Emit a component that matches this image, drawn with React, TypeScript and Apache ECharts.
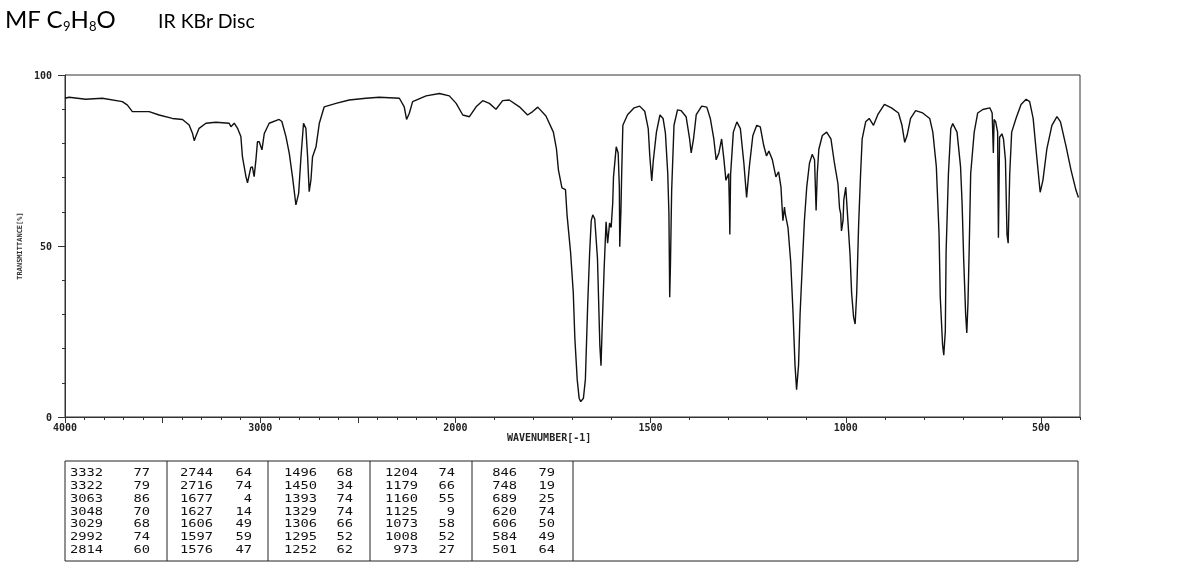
import React, { useEffect, useRef } from "react";
import * as echarts from "echarts";

// Spectrum (wavenumber cm-1, transmittance %)
const wavenumbers = [
  4000, 3979, 3894, 3809, 3706, 3680, 3655, 3569, 3518, 3450, 3398, 3364, 3347, 3338, 3330, 3313, 3278, 3227,
  3159, 3150, 3133, 3116, 3099, 3091, 3073, 3065, 3048, 3040, 3031, 3022, 3014, 3005, 2991, 2979, 2954, 2903,
  2889, 2868, 2851, 2834, 2817, 2803, 2791, 2778, 2766, 2757, 2749, 2740, 2732, 2714, 2697, 2672, 2612, 2544,
  2458, 2390, 2287, 2262, 2250, 2236, 2219, 2150, 2082, 2031, 1998, 1981, 1964, 1947, 1930, 1913, 1896, 1879,
  1862, 1836, 1815, 1802, 1789, 1768, 1749, 1741, 1736, 1727, 1718, 1714, 1705, 1698, 1694, 1688, 1683, 1679,
  1672, 1667, 1661, 1656, 1652, 1648, 1643, 1636, 1630, 1627, 1624, 1619, 1614, 1610, 1605, 1601, 1597, 1595,
  1588, 1583, 1580, 1579, 1576, 1574, 1571, 1559, 1542, 1528, 1515, 1506, 1502, 1497, 1493, 1485, 1476, 1468,
  1462, 1456, 1453, 1451, 1449, 1447, 1446, 1440, 1431, 1422, 1409, 1400, 1396, 1390, 1383, 1369, 1356, 1347,
  1338, 1332, 1325, 1318, 1312, 1307, 1300, 1298, 1297, 1295, 1288, 1279, 1270, 1261, 1254, 1247, 1238, 1228,
  1219, 1210, 1203, 1197, 1188, 1179, 1172, 1166, 1163, 1161, 1157, 1155, 1148, 1141, 1135, 1130, 1126, 1121,
  1117, 1111, 1106, 1100, 1093, 1086, 1080, 1076, 1073, 1069, 1060, 1049, 1038, 1029, 1020, 1016, 1013, 1011,
  1007, 1005, 1000, 994, 989, 985, 980, 976, 972, 967, 962, 958, 949, 940, 929, 918, 901, 883, 865, 856, 849,
  843, 834, 821, 803, 785, 777, 768, 761, 758, 752, 749, 745, 743, 737, 731, 726, 715, 706, 702, 698, 693, 690,
  687, 684, 680, 671, 662, 649, 631, 625, 622, 620, 616, 611, 609, 606, 600, 596, 591, 587, 584, 580, 575, 564,
  551, 538, 529, 520, 511, 502, 495, 485, 472, 459, 450, 436, 423, 410, 404,
];
const transmittance = [
  93.2, 93.5, 92.9, 93.2, 92.2, 91.2, 89.3, 89.3, 88.3, 87.3, 87.0, 85.4, 83.0, 80.8, 82.0, 84.4, 85.9, 86.2,
  85.9, 84.9, 85.9, 84.4, 82.0, 76.1, 70.3, 68.5, 73.0, 73.1, 70.3, 75.1, 80.5, 80.5, 78.1, 82.9, 85.9, 87.0,
  86.4, 82.0, 77.1, 70.0, 62.0, 65.4, 76.1, 85.9, 84.4, 76.0, 65.9, 69.3, 76.0, 79.0, 85.9, 90.7, 91.7, 92.7,
  93.2, 93.5, 93.2, 90.7, 87.0, 88.8, 92.2, 93.9, 94.6, 93.9, 91.7, 88.3, 87.8, 90.7, 92.5, 91.7, 90.0, 92.5,
  92.7, 90.7, 88.3, 89.3, 90.6, 88.0, 83.3, 78.3, 72.2, 67.0, 66.5, 59.1, 48.3, 36.3, 23.1, 11.0, 5.5, 4.5,
  5.5, 11.0, 33.2, 48.3, 57.4, 59.1, 57.9, 46.3, 21.1, 15.0, 26.1, 43.3, 57.1, 50.8, 56.7, 55.4, 62.5, 70.2,
  79.0, 77.2, 67.2, 49.8, 60.0, 71.2, 85.3, 88.4, 90.4, 90.9, 89.4, 84.3, 76.3, 69.0, 75.0, 83.3, 88.3, 87.3,
  83.0, 71.2, 59.4, 35.0, 45.0, 59.4, 66.2, 85.3, 89.8, 89.6, 87.8, 81.3, 77.2, 81.3, 88.4, 90.9, 90.6, 87.3,
  81.3, 75.2, 77.2, 81.3, 75.2, 69.2, 71.2, 61.1, 53.4, 71.0, 83.3, 86.3, 84.3, 74.2, 64.2, 73.2, 82.3, 85.3,
  84.8, 79.3, 76.3, 77.8, 75.2, 70.2, 71.7, 67.2, 61.1, 57.4, 61.4, 59.4, 55.4, 45.3, 30.2, 15.1, 8.0, 15.1,
  30.2, 45.3, 57.4, 67.2, 74.2, 76.8, 75.2, 60.4, 71.2, 78.3, 82.3, 83.3, 81.3, 74.2, 68.2, 61.1, 59.4, 54.4,
  57.4, 63.5, 67.2, 56.4, 47.3, 36.2, 29.2, 27.2, 36.2, 56.4, 71.2, 81.3, 86.3, 87.3, 85.3, 88.4, 91.4, 90.4, 88.9, 85.3, 80.3,
  82.3, 87.3, 89.6, 88.9, 87.3, 83.3, 73.2, 53.4, 35.2, 21.1, 18.1, 25.1, 48.3, 71.2, 84.3, 85.8, 83.3, 73.2, 62.4, 46.3, 30.2, 24.6,
  33.2, 48.3, 71.2, 83.3, 88.9, 89.9, 90.4, 88.9, 77.2, 87.0, 86.3, 83.3, 52.4, 81.8, 82.8, 81.3, 75.2, 53.4, 50.8, 71.2, 83.3, 87.3,
  91.4, 92.9, 92.2, 87.3, 76.3, 65.7, 69.2, 78.3, 85.3, 87.8, 86.3, 79.3, 72.2, 66.2, 64.2,
];

// Axis labels
const xTickLabels = [4000, 3000, 2000, 1500, 1000, 500];
const xLongTicks = [4000, 3500, 3000, 2500, 2000, 1500, 1000, 500];

// Peak table (column by column)
const peakWavenumbers = [
  3332, 3322, 3063, 3048, 3029, 2992, 2814,
  2744, 2716, 1677, 1627, 1606, 1597, 1576,
  1496, 1450, 1393, 1329, 1306, 1295, 1252,
  1204, 1179, 1160, 1125, 1073, 1008, 973,
  846, 748, 689, 620, 606, 584, 501,
];
const peakTransmittance = [
  77, 79, 86, 70, 68, 74, 60,
  64, 74, 4, 14, 49, 59, 47,
  68, 34, 74, 74, 66, 52, 62,
  74, 66, 55, 9, 58, 52, 27,
  79, 19, 25, 74, 50, 49, 64,
];

// Non-linear IR wavenumber scale: 4000-2000 compressed 2x
const toU = (wn: number) => (wn >= 2000 ? (4000 - wn) / 2 : 3000 - wn);
const fromU = (u: number) => (u <= 1000 ? 4000 - 2 * u : 3000 - u);

const MONO = "DejaVu Sans Mono";

export default function App() {
  const ref = useRef<HTMLDivElement>(null);
  useEffect(() => {
    if (!ref.current) return;
    const chart = echarts.init(ref.current, undefined, { renderer: "svg" });

    const shortTicks: number[] = [];
    for (let w = 4000; w >= 400; w -= 100) shortTicks.push(toU(w));

    const colWnRight = [103, 213, 317, 418, 517];
    const colTRight = [150, 252, 353, 455, 555];
    const tableTexts: any[] = [];
    peakWavenumbers.forEach((wn, i) => {
      const c = Math.floor(i / 7);
      const r = i % 7;
      const y = 472.5 + r * 12.75;
      tableTexts.push({
        type: "text", x: colWnRight[c], y, scaleX: 1.25,
        style: { text: String(wn), font: `11px "${MONO}"`, fill: "#111", align: "right", verticalAlign: "middle" },
      });
      tableTexts.push({
        type: "text", x: colTRight[c], y, scaleX: 1.25,
        style: { text: String(peakTransmittance[i]), font: `11px "${MONO}"`, fill: "#111", align: "right", verticalAlign: "middle" },
      });
    });
    const dividers = [167, 268, 370, 472, 573].map((x) => ({
      type: "line", shape: { x1: x, y1: 461, x2: x, y2: 561 }, style: { stroke: "#222", lineWidth: 1 },
    }));

    chart.setOption({
      animation: false,
      grid: { left: 65, right: 103, top: 75, bottom: 162, show: true, borderColor: "#333", borderWidth: 1 },
      xAxis: [
        {
          type: "value", min: 0, max: 2600, position: "bottom",
          axisLine: { show: true, lineStyle: { color: "#333", width: 1 } },
          axisTick: { show: true, customValues: shortTicks, length: 3, lineStyle: { color: "#333" } },
          axisLabel: {
            customValues: xTickLabels.map(toU),
            formatter: (v: number) => String(Math.round(fromU(v))),
            fontFamily: MONO, fontWeight: "bold", fontSize: 10, color: "#222", margin: 5,
          },
          splitLine: { show: false },
        },
        {
          type: "value", min: 0, max: 2600, position: "bottom",
          axisLine: { show: false },
          axisTick: { show: true, customValues: xLongTicks.map(toU), length: 6, lineStyle: { color: "#333" } },
          axisLabel: { show: false },
          splitLine: { show: false },
        },
      ],
      yAxis: {
        type: "value", min: 0, max: 100, interval: 50,
        axisLine: { show: true, lineStyle: { color: "#333", width: 1 } },
        axisTick: { show: true, length: 7, lineStyle: { color: "#333" } },
        minorTick: { show: true, splitNumber: 5, length: 3, lineStyle: { color: "#333" } },
        axisLabel: { fontFamily: MONO, fontWeight: "bold", fontSize: 10, color: "#222", margin: 13 },
        splitLine: { show: false },
        name: "TRANSMITTANCE[%]", nameLocation: "middle", nameRotate: 90, nameGap: 37,
        nameTextStyle: { fontFamily: MONO, fontWeight: "bold", fontSize: 7, color: "#333" },
      },
      series: [
        {
          type: "line", xAxisIndex: 0,
          data: wavenumbers.map((w, i) => [toU(w), transmittance[i]]),
          symbol: "none", showSymbol: false,
          lineStyle: { color: "#111", width: 1.4 },
        },
      ],
      graphic: [
        {
          type: "text", x: 5, y: 4,
          style: {
            text: "{b|MF C}{s|9}{b|H}{s|8}{b|O}",
            rich: {
              b: { fontSize: 24, fontFamily: "Lato", fill: "#000", lineHeight: 28, verticalAlign: "middle" },
              s: { fontSize: 13, fontFamily: "Lato", fill: "#000", lineHeight: 28, verticalAlign: "bottom" },
            },
          },
        },
        {
          type: "text", x: 158, y: 20,
          style: { text: "IR KBr Disc", font: '19.5px "Lato"', fill: "#000", verticalAlign: "middle" },
        },
        {
          type: "text", x: 507, y: 437,
          style: { text: "WAVENUMBER[-1]", font: `bold 10px "${MONO}"`, fill: "#222", verticalAlign: "middle" },
        },
        {
          type: "rect", shape: { x: 65, y: 461, width: 1013, height: 100 },
          style: { fill: "none", stroke: "#222", lineWidth: 1 },
        },
        ...dividers,
        ...tableTexts,
      ],
    });
    return () => chart.dispose();
  }, []);
  return <div ref={ref} style={{ position: "fixed", left: 0, top: 0, width: 1183, height: 579 }} />;
}
